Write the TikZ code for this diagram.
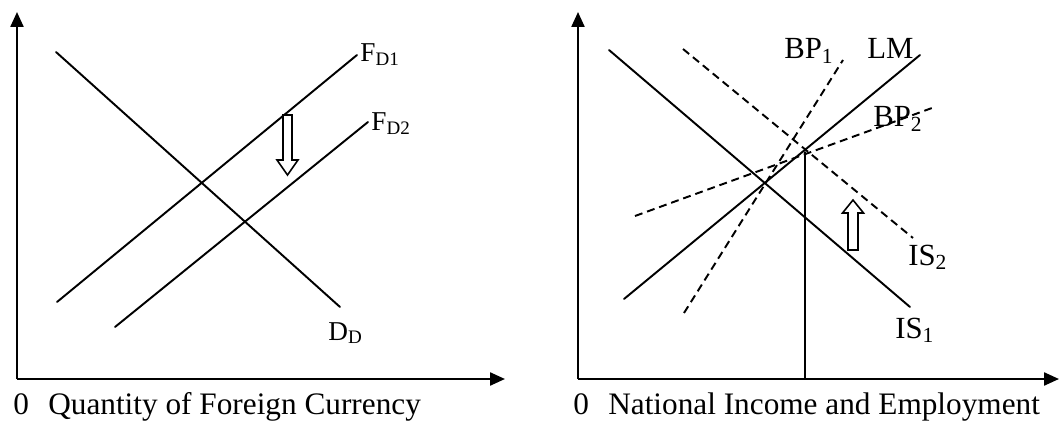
\documentclass[tikz,border=0pt]{standalone}
\usepackage{fontspec}
\setmainfont{Liberation Serif}
\usetikzlibrary{arrows.meta}

\begin{document}
\begin{tikzpicture}[
  x=0.02cm, y=-0.02cm,
  curve/.style={line width=1.1pt, line cap=round},
  shifted/.style={line width=1.1pt, dash pattern=on 4.5pt off 2.8pt},
  axis/.style={line width=1.3pt, -{Triangle[length=0.3cm, width=0.26cm]}},
  lbl/.style={anchor=base west, inner sep=0pt, font=\fontsize{15.5}{18}\selectfont},
  biglbl/.style={lbl, font=\fontsize{17.5}{20}\selectfont},
  axlbl/.style={anchor=base west, inner sep=0pt, font=\fontsize{17.8}{20}\selectfont},
  hollow/.style={line width=0.9pt, fill=white, line join=miter}
]
\useasboundingbox (0,0) rectangle (1061,422);

% left panel: foreign exchange market
\coordinate (lo) at (17,379);
\coordinate (ly) at (17,12);
\coordinate (lx) at (505,379);
\coordinate (dda) at (56,52);
\coordinate (ddb) at (340,307);
\coordinate (fdonea) at (57,302);
\coordinate (fdoneb) at (357,55);
\coordinate (fdtwoa) at (115,327);
\coordinate (fdtwob) at (368,122);

\draw[axis] (lo) -- (ly);
\draw[axis] (lo) -- (lx);
\draw[curve] (dda) -- (ddb);
\draw[curve] (fdonea) -- (fdoneb);
\draw[curve] (fdtwoa) -- (fdtwob);
\draw[hollow] (283,115) -- (292,115) -- (292,160) -- (298,160) -- (287.5,175)
  -- (277,160) -- (283,160) -- cycle;

\node[lbl] (fdonelbl) at (360,62) {F\textsubscript{D1}};
\node[lbl] (fdtwolbl) at (371,131) {F\textsubscript{D2}};
\node[lbl] (ddlbl) at (328,340) {D\textsubscript{D}};
\node[axlbl] (lxlbl) at (13,414) {0\hspace{11pt}Quantity of Foreign Currency};

% right panel: IS-LM-BP
\coordinate (ro) at (578,379);
\coordinate (ry) at (578,12);
\coordinate (rx) at (1059,379);
\coordinate (isonea) at (609,50);
\coordinate (isoneb) at (910,307);
\coordinate (lma) at (624,299);
\coordinate (lmb) at (920,55);
\coordinate (bponea) at (684,313);
\coordinate (bponeb) at (843,60);
\coordinate (istwoa) at (683,49);
\coordinate (istwob) at (913,238);
\coordinate (bptwoa) at (635,216);
\coordinate (bptwob) at (932,108);
\coordinate (ystar) at (805,379);
\coordinate (ytop) at (805,152);

\draw[axis] (ro) -- (ry);
\draw[axis] (ro) -- (rx);
\draw[curve] (isonea) -- (isoneb);
\draw[curve] (lma) -- (lmb);
\draw[shifted] (bponea) -- (bponeb);
\draw[shifted] (istwoa) -- (istwob);
\draw[shifted] (bptwoa) -- (bptwob);
\draw[curve] (ystar) -- (ytop);
\draw[hollow] (848,250) -- (858,250) -- (858,213) -- (863.5,213) -- (853,200)
  -- (842.5,213) -- (848,213) -- cycle;

\node[biglbl] (bponelbl) at (784,59) {BP\textsubscript{1}};
\node[biglbl] (lmlbl) at (867,59) {LM};
\node[biglbl] (bptwolbl) at (873,127) {BP\textsubscript{2}};
\node[biglbl] (istwolbl) at (908,265) {IS\textsubscript{2}};
\node[biglbl] (isonelbl) at (895,338) {IS\textsubscript{1}};
\node[axlbl] (rxlbl) at (573,414) {0\hspace{11pt}National Income and Employment};

\end{tikzpicture}
\end{document}
